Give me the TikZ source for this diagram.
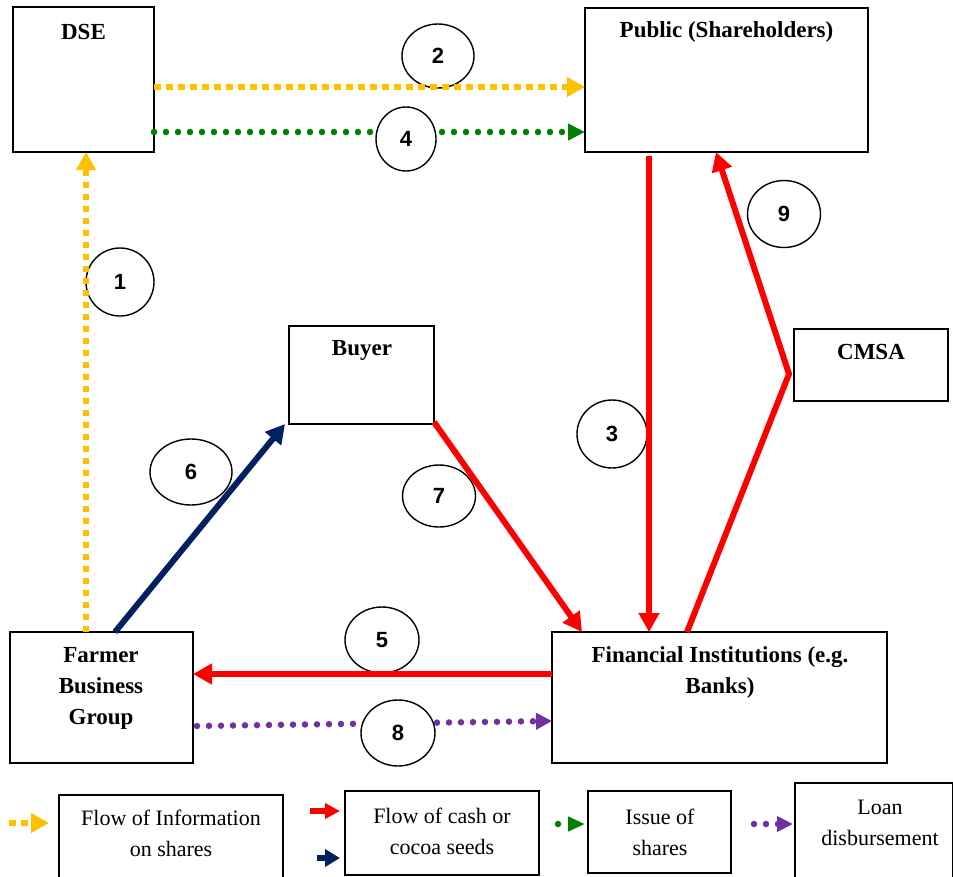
\documentclass[tikz,border=0pt]{standalone}
\usepackage{fontspec}
\setmainfont{Liberation Serif}
\newfontfamily\numfont{Liberation Sans}
\usetikzlibrary{arrows.meta,shapes.geometric}
\definecolor{yel}{HTML}{FFC000}
\definecolor{grn}{HTML}{008000}
\definecolor{pur}{HTML}{7030A0}
\definecolor{rd}{HTML}{FF0000}
\definecolor{nav}{HTML}{002060}
\begin{document}
\begin{tikzpicture}[x=1pt,y=-1pt,
 box/.style={draw=black,line width=1.7pt,inner sep=0pt,outer sep=0pt},
 lab/.style={font=\bfseries\fontsize{23}{31}\selectfont,align=center,inner sep=0pt},
 leg/.style={font=\fontsize{22}{31}\selectfont,align=center,inner sep=0pt},
 num/.style={draw=black,ellipse,fill=white,line width=1.4pt,inner sep=0pt,font=\numfont\bfseries\fontsize{22}{22}\selectfont},
 yelline/.style={draw=yel,line width=6.5pt,dash pattern=on 6.5pt off 5.5pt,-{Triangle[length=18pt,width=19pt,fill=yel]}},
 grnline/.style={draw=grn,line width=6.5pt,line cap=round,dash pattern=on 0pt off 12pt,-{Triangle[length=17pt,width=16pt,fill=grn]}},
 purline/.style={draw=pur,line width=6.5pt,line cap=round,dash pattern=on 0pt off 12pt,-{Triangle[length=16pt,width=16pt,fill=pur]}},
 redline/.style={draw=rd,line width=6pt,-{Triangle[length=19pt,width=20pt,fill=rd]}},
 navline/.style={draw=nav,line width=6pt,-{Triangle[length=19pt,width=20pt,fill=nav]}},
]
\useasboundingbox (0,0) rectangle (953,876);
\clip (0,0) rectangle (953,876);

% boxes
\node[box,minimum width=141pt,minimum height=145pt] (dse) at (83.5,79.5) {};
\node[box,minimum width=283pt,minimum height=144pt] (pub) at (726.5,80) {};
\node[box,minimum width=145pt,minimum height=98pt] (buyer) at (361.5,375) {};
\node[box,minimum width=154pt,minimum height=72pt] (cmsa) at (871,365) {};
\node[box,minimum width=183pt,minimum height=131pt] (farmer) at (101.5,697.5) {};
\node[box,minimum width=335pt,minimum height=131pt] (fi) at (719.5,697.5) {};

% box labels
\node[lab] (dseT) at (83.5,32) {DSE};
\node[lab] (pubT) at (726.5,32) {Public (Shareholders)};
\node[lab] (buyerT) at (362,350) {Buyer};
\node[lab] (cmsaT) at (871,352) {CMSA};
\node[lab] (farmerT) at (101,688) {Farmer\\Business\\Group};
\node[lab] (fiT) at (720,672.5) {Financial Institutions (e.g.\\Banks)};

% legend boxes
\node[box,minimum width=224pt,minimum height=85pt] (l1) at (171,837.5) {};
\node[box,minimum width=194pt,minimum height=84pt] (l2) at (442,833) {};
\node[box,minimum width=143pt,minimum height=82pt] (l3) at (659.5,832) {};
\node[box,minimum width=158pt,minimum height=97pt] (l4) at (874,831.5) {};
\node[leg] (l1T) at (171,833) {Flow of Information\\on shares};
\node[leg] (l2T) at (442,831.5) {Flow of cash or\\cocoa seeds};
\node[leg] (l3T) at (660,832.5) {Issue of\\shares};
\node[leg] (l4T) at (880,823) {Loan\\disbursement};

% dotted lines under circles
\draw[grnline] ([yshift=-52.5pt]dse.east) -- ([yshift=-52pt]pub.west);
\draw[purline] ([xshift=4pt,yshift=-28.5pt]farmer.east) -- ([yshift=-23.5pt]fi.west);

% number circles
\node[num,minimum width=68pt,minimum height=68pt] (c1) at (120,282) {1};
\node[num,minimum width=72pt,minimum height=64pt] (c2) at (438,56) {2};
\node[num,minimum width=70pt,minimum height=68pt] (c3) at (612,434) {3};
\node[num,minimum width=60pt,minimum height=64pt] (c4) at (406,139) {4};
\node[num,minimum width=74pt,minimum height=66pt] (c5) at (382,640) {5};
\node[num,minimum width=82pt,minimum height=66pt] (c6) at (191,472) {6};
\node[num,minimum width=73pt,minimum height=62pt] (c7) at (439,496) {7};
\node[num,minimum width=74pt,minimum height=66pt] (c8) at (398,733) {8};
\node[num,minimum width=73pt,minimum height=67pt] (c9) at (784,214) {9};

% connectors
\draw[yelline] ([xshift=76pt]farmer.north west) -- ([xshift=73pt]dse.south west);
\draw[yelline] ([yshift=-7.5pt]dse.east) -- ([yshift=-7pt]pub.west);
\draw[redline] ([xshift=64pt,yshift=-4pt]pub.south west) -- ([xshift=97pt]fi.north west);
\draw[redline] ([yshift=23.5pt]fi.west) -- ([yshift=23.5pt]farmer.east);
\draw[navline] ([xshift=105pt]farmer.north west) -- ([xshift=-4pt]buyer.south west);
\draw[redline] ([yshift=2pt]buyer.south east) -- ([xshift=30pt]fi.north west);
\coordinate (bend9) at (789,374);
\draw[redline,line join=miter] ([xshift=135pt]fi.north west) -- (bend9) -- ([xshift=131pt]pub.south west);

% legend arrows
\coordinate (ly1) at (9,823);
\coordinate (ly2) at (49,823);
\draw[yelline,-{Triangle[length=18pt,width=19pt,fill=yel]}] (ly1) -- (ly2);
\coordinate (lr1) at (310,811);
\coordinate (lr2) at (340,811);
\draw[redline,-{Triangle[length=15pt,width=15pt,fill=rd]}] (lr1) -- (lr2);
\coordinate (ln1) at (317,858);
\coordinate (ln2) at (340,858);
\draw[navline,-{Triangle[length=15pt,width=17pt,fill=nav]}] (ln1) -- (ln2);
\coordinate (lg1) at (558,824);
\coordinate (lg2) at (585,824);
\draw[grnline,-{Triangle[length=17pt,width=14pt,fill=grn]}] (lg1) -- (lg2);
\coordinate (lp1) at (754,824);
\coordinate (lp2) at (793,824);
\draw[purline,-{Triangle[length=16pt,width=15pt,fill=pur]}] (lp1) -- (lp2);
\end{tikzpicture}
\end{document}
